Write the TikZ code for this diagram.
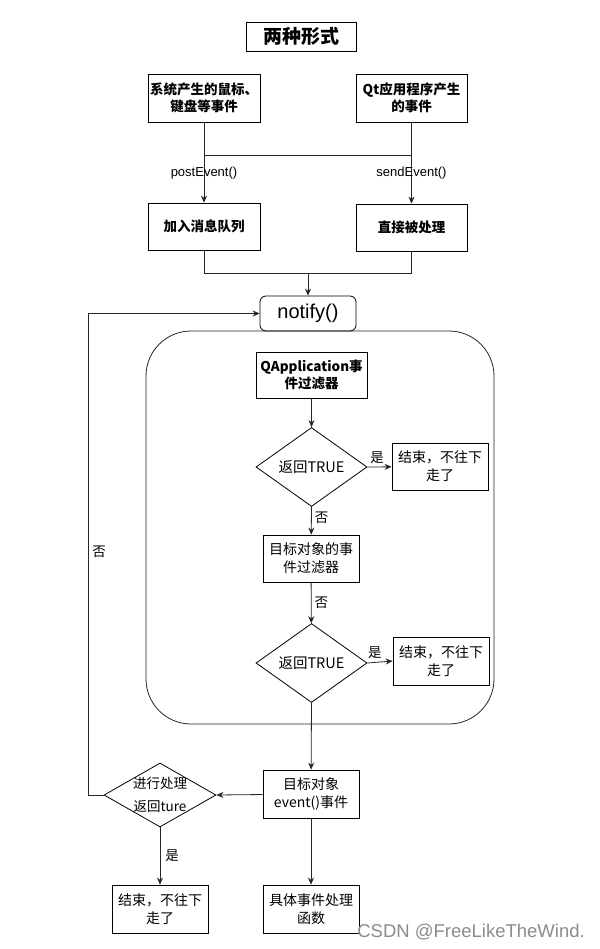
\documentclass[tikz,border=0pt]{standalone}
\usepackage{fontspec}
\setmainfont{Noto Sans CJK SC}
\newfontfamily\lat{Liberation Sans}
\usetikzlibrary{arrows.meta,shapes.geometric}
\begin{document}
\begin{tikzpicture}[x=1pt,y=-1pt,
  box/.style={draw=black,line width=0.8pt,align=center,inner sep=0pt,font=\fontsize{14}{18}\selectfont},
  bbox/.style={box,font=\fontsize{13.5}{17.5}\selectfont\bfseries},
  dia/.style={draw=black,line width=0.8pt,diamond,inner sep=0pt,minimum width=111pt,minimum height=64pt,font=\fontsize{14.5}{17}\selectfont},
  ln/.style={draw=black!85,line width=0.8pt},
  arr/.style={ln,-{Stealth[length=7pt,width=6pt]}},
  lab/.style={font=\fontsize{13.5}{15}\selectfont,inner sep=1pt},
  elab/.style={font=\lat\fontsize{13}{15}\selectfont,inner sep=1pt}]
\useasboundingbox[fill=white] (0,0) rectangle (599,949);

% frame
\node[draw=black!85,line width=0.8pt,rounded corners=45pt,minimum width=348pt,minimum height=393pt] (frame) at (320,527.5) {};

\node[box,font=\fontsize{19}{21}\selectfont\bfseries,minimum width=110pt,minimum height=29pt] (title) at (301,36.5) {两种形式};

\node[bbox,minimum width=112pt,minimum height=48pt] (b1) at (204,98) {系统产生的鼠标、\\键盘等事件};
\node[bbox,minimum width=111pt,minimum height=48pt] (b2) at (411.5,98) {Qt应用程序产生\\的事件};
\node[bbox,minimum width=112pt,minimum height=47pt] (b3) at (204,226.5) {加入消息队列};
\node[bbox,minimum width=111pt,minimum height=47pt] (b4) at (411.5,227.5) {直接被处理};

\node[draw=black,line width=0.8pt,rounded corners=6pt,minimum width=96pt,minimum height=35pt,inner sep=0pt,font=\lat\fontsize{20}{22}\selectfont] (notify) at (308,313.5) {notify()};

\node[bbox,minimum width=111pt,minimum height=46pt] (qa) at (311.5,375) {QApplication事\\件过滤器};
\node[dia] (d1) at (311.5,467) {返回TRUE};
\node[box,minimum width=96pt,minimum height=47pt] (e1) at (440,466.5) {结束，不往下\\走了};
\node[box,minimum width=96pt,minimum height=47pt] (tf) at (311,558.5) {目标对象的事\\件过滤器};
\node[dia,minimum height=66pt] (d2) at (311.5,663) {返回TRUE};
\node[box,minimum width=96pt,minimum height=48pt] (e2) at (441,661) {结束，不往下\\走了};
\node[box,minimum width=96pt,minimum height=48pt] (ev) at (311,794) {目标对象\\event()事件};
\node[dia,minimum width=112pt] (d3) at (160,795) {};
\node[font=\fontsize{13.5}{23}\selectfont,align=center,inner sep=0pt] (d3t) at (d3.center) {进行处理\\返回ture};
\node[box,minimum width=96pt,minimum height=48pt] (e3) at (160,909) {结束，不往下\\走了};
\node[box,minimum width=96pt,minimum height=48pt] (fn) at (311,909) {具体事件处理\\函数};

% connectors top
\coordinate (m1) at (204,155);
\coordinate (m2) at (411.5,155);
\draw[ln] (b1) -- (m1) -- (m2) -- (b2);
\draw[arr] (m1) -- node[elab,pos=0.38] (pe) {postEvent()} (b3);
\draw[arr] (m2) -- node[elab,pos=0.38] (se) {sendEvent()} (b4);
\coordinate (m3) at (204,273);
\coordinate (m4) at (411.5,273);
\coordinate (m5) at (308,273);
\draw[ln] (b3) -- (m3) -- (m4) -- (b4);
\draw[arr] (m5) -- (notify);

\draw[arr] (qa) -- (d1);
\draw[arr] (d1.east) -- node[lab,above,pos=0.4,yshift=2pt] (y1) {是} (e1);
\draw[arr] (d1.south) -- node[lab,right,pos=0.4,xshift=2pt] (n1) {否} (tf);
\draw[arr] (tf) -- node[lab,right,pos=0.5,xshift=2pt] (n2) {否} (d2);
\draw[arr] (d2.east) -- node[lab,above,pos=0.3,yshift=2pt] (y2) {是} (e2.west);
\draw[arr] (d2.south) -- (ev);
\draw[arr] (ev) -- (d3.east);
\draw[arr] (ev) -- (fn);
\draw[arr] (d3.south) -- node[lab,right,pos=0.5,xshift=4pt] (y3) {是} (e3);
\coordinate (lp) at (88,795);
\draw[arr] (d3.west) -- (lp) |- node[lab,pos=0.253,right,xshift=3pt] (n3) {否} (notify.west);

\node[font=\lat\fontsize{18.5}{20}\selectfont,text=black!45,anchor=east,inner sep=0pt] (wm) at (585,932) {CSDN @FreeLikeTheWind.};
\end{tikzpicture}
\end{document}
